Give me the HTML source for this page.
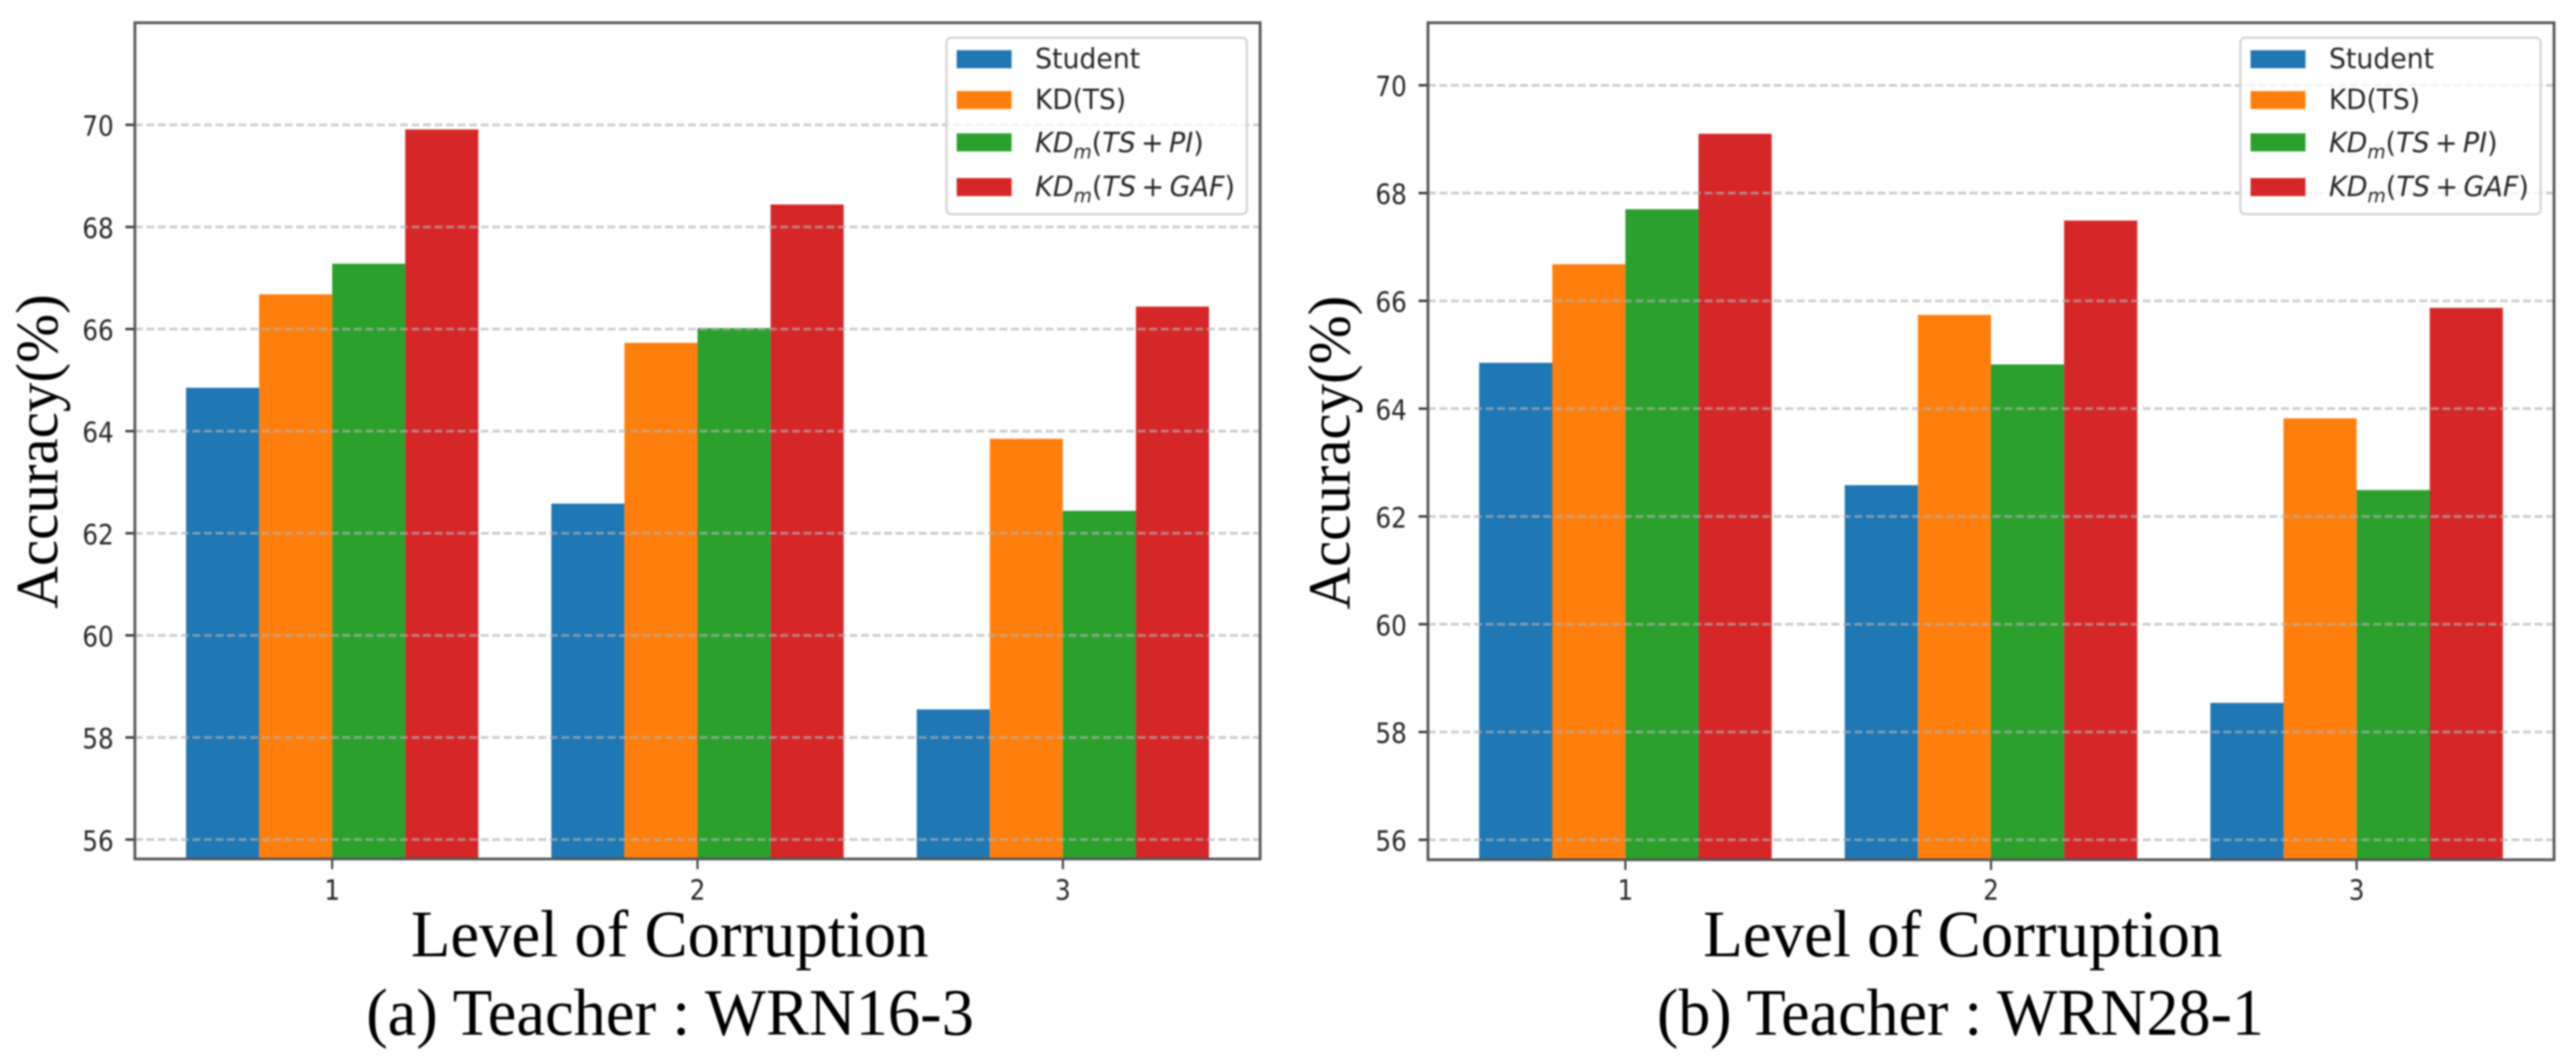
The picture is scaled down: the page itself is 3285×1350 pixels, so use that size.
<!DOCTYPE html>
<html lang="en">
<head>
<meta charset="utf-8">
<title>Accuracy vs level of corruption</title>
<style>
html,body{margin:0;padding:0;background:#fff;}
svg{display:block;filter:blur(1px);}
.tick{font-family:"DejaVu Sans","Liberation Sans",sans-serif;font-size:36px;fill:#262626;}
.leg{font-family:"DejaVu Sans","Liberation Sans",sans-serif;font-size:36px;fill:#262626;}
.serif{font-family:"Liberation Serif",serif;font-size:85px;fill:#000;}
</style>
</head>
<body>
<svg id="figure" xmlns="http://www.w3.org/2000/svg" width="3285" height="1350" viewBox="0 0 3285 1350">
  <rect width="3285" height="1350" fill="#fff"/>
  <g id="chart-a"></g>
  <g id="chart-b"></g>

  <text class="serif" transform="translate(73,776) rotate(-90)" textLength="401" lengthAdjust="spacingAndGlyphs" style="font-size:76px">Accuracy(%)</text>
  <text class="serif" transform="translate(1721,777) rotate(-90)" textLength="400" lengthAdjust="spacingAndGlyphs" style="font-size:76px">Accuracy(%)</text>

  <text class="serif" x="524" y="1219" textLength="660" lengthAdjust="spacingAndGlyphs">Level of Corruption</text>
  <text class="serif" x="2172" y="1219" textLength="662" lengthAdjust="spacingAndGlyphs">Level of Corruption</text>

  <text class="serif" x="467" y="1319" textLength="775" lengthAdjust="spacingAndGlyphs">(a) Teacher : WRN16-3</text>
  <text class="serif" x="2113" y="1319" textLength="774" lengthAdjust="spacingAndGlyphs">(b) Teacher : WRN28-1</text>
</svg>
<script>
var categories = [1, 2, 3];
var yTickLabelsA = [56, 58, 60, 62, 64, 66, 68, 70];
var yTickLabelsB = [56, 58, 60, 62, 64, 66, 68, 70];
var seriesColors = ['#1f77b4', '#ff7f0e', '#2ca02c', '#d62728'];

var studentA = [64.85, 62.58, 58.55];
var kdA = [66.68, 65.73, 63.85];
var piA = [67.28, 66.02, 62.44];
var gafA = [69.91, 68.44, 66.44];

var studentB = [64.85, 62.58, 58.54];
var kdB = [66.68, 65.74, 63.82];
var piB = [67.7, 64.82, 62.49];
var gafB = [69.1, 67.49, 65.87];

var NS = 'http://www.w3.org/2000/svg';
function make(tag, attrs, parent) {
  var el = document.createElementNS(NS, tag);
  for (var k in attrs) { el.setAttribute(k, attrs[k]); }
  parent.appendChild(el);
  return el;
}

function drawLegend(root, frame, suffix) {
  var lx = frame.right - 400;
  var box = make('rect', {x: lx, y: 48, width: 383, height: 225, rx: 6, fill: '#fff', 'fill-opacity': 0.8, stroke: '#d6d6d6', 'stroke-width': 3}, root);
  
  
  var swatchY = [64, 116, 170, 227];
  var baseY = [87, 139, 194, 250];
  for (var i = 0; i < 4; i++) {
    var sw = make('rect', {x: lx + 13, y: swatchY[i], width: 70, height: 23, fill: seriesColors[i]}, root);
    
    
  }
  var t1 = make('text', {x: lx + 113, y: baseY[0], 'class': 'leg', textLength: 134, lengthAdjust: 'spacingAndGlyphs'}, root);
  t1.textContent = 'Student';
  
  
  var t2 = make('text', {x: lx + 113, y: baseY[1], 'class': 'leg', textLength: 116, lengthAdjust: 'spacingAndGlyphs'}, root);
  t2.textContent = 'KD(TS)';
  
  
  var mathLabels = [['TS\u2009+\u2009PI', 215], ['TS\u2009+\u2009GAF', 255]];
  for (var m = 0; m < 2; m++) {
    var g = make('text', {x: lx + 113, y: baseY[m + 2], 'class': 'leg', textLength: mathLabels[m][1], lengthAdjust: 'spacingAndGlyphs'}, root);
    
    
    var a = make('tspan', {'font-style': 'italic'}, g); a.textContent = 'KD';
    var b = make('tspan', {'font-style': 'italic', dy: 8, style: 'font-size:25px'}, g); b.textContent = 'm';
    var c = make('tspan', {dy: -8}, g); c.textContent = '(';
    var d = make('tspan', {'font-style': 'italic'}, g); d.textContent = mathLabels[m][0];
    var e = make('tspan', {}, g); e.textContent = ')';
  }
}

function drawChart(rootId, suffix, frame, xDomain, yDomain, yTicks, series) {
  var root = document.getElementById(rootId);
  function xScale(v) { return frame.left + (v - xDomain[0]) / (xDomain[1] - xDomain[0]) * (frame.right - frame.left); }
  function yScale(v) { return frame.bottom - (v - yDomain[0]) / (yDomain[1] - yDomain[0]) * (frame.bottom - frame.top); }
  var barWidth = 0.2;
  var names = ['student', 'kd', 'kdm-pi', 'kdm-gaf'];

  series.forEach(function (values, s) {
    values.forEach(function (val, c) {
      var x0 = xScale(categories[c] - 0.4 + s * barWidth);
      var x1 = xScale(categories[c] - 0.4 + (s + 1) * barWidth);
      var top = yScale(val);
      var bar = make('rect', {x: x0, y: top, width: x1 - x0, height: frame.bottom - top, fill: seriesColors[s]}, root);
      
      
    });
  });

  yTicks.forEach(function (t) {
    var y = yScale(t);
    var grid = make('line', {x1: frame.left, x2: frame.right, y1: y, y2: y, stroke: '#b0b0b0', 'stroke-opacity': 0.65, 'stroke-width': 3.5, 'stroke-dasharray': '10 4.7'}, root);
    
    
    var tick = make('line', {x1: frame.left - 12, x2: frame.left, y1: y, y2: y, stroke: '#333', 'stroke-width': 3}, root);
    
    
    var lab = make('text', {x: frame.left - 27, y: y + 14, 'class': 'tick', 'text-anchor': 'end', textLength: 40, lengthAdjust: 'spacingAndGlyphs'}, root);
    lab.textContent = String(t);
    
    
  });

  categories.forEach(function (cat) {
    var x = xScale(cat);
    var tick = make('line', {x1: x, x2: x, y1: frame.bottom, y2: frame.bottom + 13, stroke: '#333', 'stroke-width': 2.5}, root);
    
    
    var lab = make('text', {x: x, y: 1147, 'class': 'tick', 'text-anchor': 'middle', textLength: 20, lengthAdjust: 'spacingAndGlyphs'}, root);
    lab.textContent = String(cat);
    
    
  });

  var spine = make('rect', {x: frame.left, y: frame.top, width: frame.right - frame.left, height: frame.bottom - frame.top, fill: 'none', stroke: '#555', 'stroke-width': 3.5}, root);
  
  

  drawLegend(root, frame, suffix);
}

drawChart('chart-a', 'a', {left: 172, right: 1607, top: 29, bottom: 1095}, [0.46, 3.54], [55.62, 72.0], yTickLabelsA, [studentA, kdA, piA, gafA]);
drawChart('chart-b', 'b', {left: 1821, right: 3257, top: 29, bottom: 1096}, [0.46, 3.54], [55.63, 71.16], yTickLabelsB, [studentB, kdB, piB, gafB]);
</script>
</body>
</html>
